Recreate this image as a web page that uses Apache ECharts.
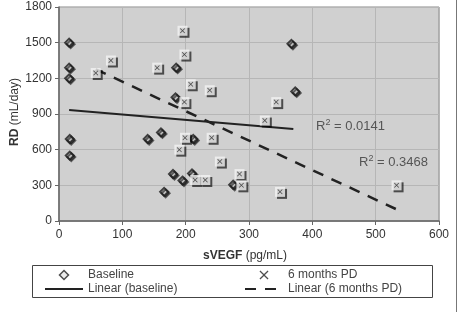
<!DOCTYPE html>
<html>
<head>
<meta charset="utf-8">
<script src="https://cdn.jsdelivr.net/npm/echarts@6/dist/echarts.min.js"></script>
<style>
  html, body { margin: 0; padding: 0; background: #fff; }
  #chart { width: 461px; height: 312px; }
</style>
</head>
<body>
<div id="chart"></div>
<script>
// baseline (diamonds): [sVEGF, RD]
var baseline = [
  [16, 1500], [16, 1290], [16, 1200], [17, 690], [17, 550],
  [140, 690], [161, 745], [166, 245], [180, 395], [185, 1290],
  [184, 1040], [195, 340], [210, 400], [212, 690], [275, 305],
  [367, 1490], [373, 1090]
];
// 6 months PD (crosses)
var pd6 = [
  [58, 1245], [82, 1350], [155, 1290], [190, 600], [195, 1600],
  [198, 1400], [198, 1000], [199, 700], [208, 1150], [215, 345],
  [231, 345], [238, 1100], [241, 700], [254, 500], [285, 395],
  [288, 300], [325, 845], [343, 1000], [349, 245], [533, 300]
];
// trend line ends as printed
var trendBaseline = [[16, 933], [370, 774]];
var trendPd6 = [[58, 1276], [533, 98]];
var r2Baseline = '0.0141';
var r2Pd6 = '0.3468';

var xPath = 'path://M0,1L1,0L5,4L9,0L10,1L6,5L10,9L9,10L5,6L1,10L0,9L4,5Z';
var diamondPath = 'path://M5,0L10,5L5,10L0,5Z';
var font = 'Liberation Sans, Arial, sans-serif';

var myChart = echarts.init(document.getElementById('chart'));

var option = {
  animation: false,
  textStyle: { fontFamily: font },
  grid: {
    left: 59, right: 22, top: 7, bottom: 91,
    outerBoundsMode: 'none', containLabel: false,
    show: true, backgroundColor: '#d0d0d0', borderColor: '#8a8a8a', borderWidth: 1
  },
  xAxis: {
    type: 'value', min: 0, max: 600, interval: 100,
    name: '{b|sVEGF} (pg/mL)', nameLocation: 'middle', nameGap: 29,
    nameTextStyle: { color: '#333', fontSize: 12, padding: [0, 8, 0, 0],
      rich: { b: { fontWeight: 'bold', fontSize: 12, color: '#333' } } },
    axisLine: { lineStyle: { color: '#666', width: 1.5 } },
    axisTick: { show: true, length: 4, lineStyle: { color: '#666' } },
    axisLabel: { color: '#333', fontSize: 12, margin: 8 },
    splitLine: { lineStyle: { color: '#b6b6b6' } }
  },
  yAxis: {
    type: 'value', min: 0, max: 1800, interval: 300,
    axisLine: { show: true, lineStyle: { color: '#666', width: 1.5 } },
    axisTick: { show: true, length: 4, lineStyle: { color: '#666' } },
    axisLabel: { color: '#333', fontSize: 12, margin: 7,
      formatter: function (v) { return String(v); } },
    splitLine: { lineStyle: { color: '#b6b6b6' } }
  },
  legend: [{
    left: 39, top: 264, orient: 'vertical', itemGap: 2,
    itemWidth: 38, itemHeight: 9,
    textStyle: { color: '#444', fontSize: 12 },
    data: [
      { name: 'Baseline', icon: diamondPath,
        itemStyle: { color: '#e6e6e6', borderColor: '#222', borderWidth: 1.5 } },
      { name: 'Linear (baseline)', itemStyle: { opacity: 0 } }
    ]
  }, {
    left: 239, top: 264, orient: 'vertical', itemGap: 2,
    itemWidth: 38, itemHeight: 9,
    textStyle: { color: '#444', fontSize: 12 },
    data: [
      { name: '6 months PD', icon: xPath, itemStyle: { color: '#222' } },
      { name: 'Linear (6 months PD)', itemStyle: { opacity: 0 } }
    ]
  }],
  graphic: [
    { type: 'rect', shape: { x: 32.5, y: 265.5, width: 400, height: 32 },
      style: { fill: 'none', stroke: '#444', lineWidth: 1 }, silent: true },
    { type: 'line', shape: { x1: 456.5, y1: 0, x2: 456.5, y2: 312 },
      style: { stroke: '#777', lineWidth: 1 }, silent: true },
    // y axis title
    { type: 'text', x: 15, y: 112, rotation: Math.PI / 2, z: 10,
      style: { text: '{b|RD} (mL/day)', fill: '#333', align: 'center', verticalAlign: 'middle',
        font: '12px ' + font,
        rich: { b: { fontWeight: 'bold', fontSize: 12, fill: '#333', fontFamily: font } } } },
    { type: 'text', left: 316, top: 118, z: 10,
      style: { text: '{n|R}{s|2}{n| = ' + r2Baseline + '}', fill: '#555',
        rich: { n: { fontSize: 13, fill: '#555', fontFamily: font },
                s: { fontSize: 9, fill: '#555', padding: [0, 0, 8, 0], fontFamily: font } } } },
    { type: 'text', left: 359, top: 154, z: 10,
      style: { text: '{n|R}{s|2}{n| = ' + r2Pd6 + '}', fill: '#555',
        rich: { n: { fontSize: 13, fill: '#555', fontFamily: font },
                s: { fontSize: 9, fill: '#555', padding: [0, 0, 8, 0], fontFamily: font } } } }
  ],
  series: [
    {
      name: 'Linear (baseline)', type: 'line', data: trendBaseline,
      symbol: 'none', z: 3,
      lineStyle: { color: '#222', width: 2 }, itemStyle: { color: '#222' }
    },
    {
      name: 'Linear (6 months PD)', type: 'line', data: trendPd6,
      symbol: 'none', z: 3,
      lineStyle: { color: '#222', width: 2.5, type: [11, 9] }, itemStyle: { color: '#222' }
    },
    {
      name: 'Baseline', type: 'scatter', data: baseline,
      symbol: 'diamond', symbolSize: 8, z: 4,
      itemStyle: { color: '#dcdcdc', borderColor: '#1a1a1a', borderWidth: 2,
        shadowColor: 'rgba(0,0,0,0.7)', shadowOffsetX: 1.5, shadowOffsetY: 1.5 }
    },
    {
      name: '6 months PD', type: 'scatter', data: pd6,
      symbol: 'rect', symbolSize: 10, z: 5,
      itemStyle: { color: '#f2f2f2',
        shadowColor: 'rgba(0,0,0,0.8)', shadowOffsetX: 2, shadowOffsetY: 2 }
    },
    {
      name: '6 months PD x', type: 'scatter', data: pd6,
      symbol: xPath, symbolSize: 5, z: 6, silent: true,
      itemStyle: { color: '#222' }
    }
  ]
};
myChart.setOption(option);
</script>
</body>
</html>
